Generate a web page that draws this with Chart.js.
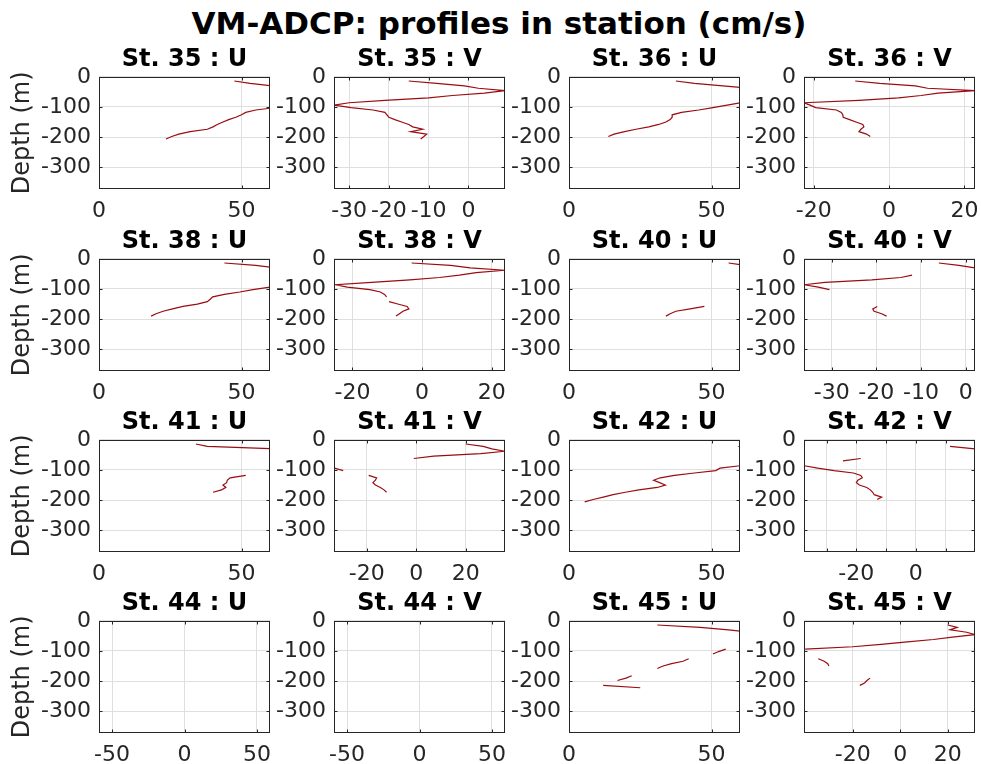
<!DOCTYPE html>
<html>
<head>
<meta charset="utf-8">
<title>VM-ADCP profiles</title>
<script src="https://cdn.jsdelivr.net/npm/chart.js@4.4.1/dist/chart.umd.min.js"></script>
<style>
    body { margin: 0; background: #fff; width: 981px; height: 764px; position: relative; overflow: hidden; }
    #suptitle { position: absolute; left: 0; width: 998px; top: 8px; text-align: center;
                font: bold 31px/31px 'DejaVu Sans'; color: #000; }
    canvas { position: absolute; }
</style>
</head>
<body>
<div id="suptitle">VM-ADCP: profiles in station (cm/s)</div>
<script>
// depth of the ADCP bins (m)
const depth = [-14, -22, -30, -38, -46, -54, -62, -70, -78, -86, -94, -102, -110, -118,
               -126, -134, -142, -150, -158, -166, -174, -182, -190, -198, -206, -214, -222];

// velocity per bin (cm/s), null where there is no good data
const u35 = [47.5, 53, 60.5, 66, 70, 72, 74, 75, 74, 72, 68, 62, 55, 51.5, 50, 48, 45.5, 43.5, 41.5, 40, 38, 32, 28, 25.5, 23.5, null, null];
const v35 = [-15, -8, -1, 2.5, 9.2, 4, -4, -10, -21, -30, -33.8, -29.5, -24, -21, -20.5, -20, -18.5, -16.8, -15, -14, -11.5, -14.5, -10.5, -11.2, -12, null, null];
const u36 = [37.5, 44, 54, 64, 68, 71, 72, 71, 69, 60.2, 55.5, 50.5, 45.5, 39.5, 36.2, 36.2, 35.5, 34, 31.5, 28, 23.5, 19.5, 15.8, 13.8, null, null, null];
const v36 = [-9, -2.5, 7, 10.2, 22.8, 13, 8.5, 2.5, -8, -22.6, -21, -19.5, -14, -12.7, -12.3, -12.2, -10.5, -8.8, -7, -6.7, -7.5, -8, -6, -5, null, null, null];
const u38 = [44, 55, 62, 66, 70, 72, 73, 72, 70, 67, 60, 54, 49.4, 44, 39.9, 39, 38, 34.5, 29.5, 25.8, 22.5, 20, 18.3, null, null, null, null];
const v38 = [-3, 8.2, 13.8, 23.8, 15.5, 10.7, 5, -3.5, -14.5, -24.8, -21.5, -15, -12, -10.8, -10.2, null, -9.5, -7, -4.3, -3.8, -5.5, -6.5, -7.5, null, null, null, null];
const u40 = [56, 62, null, null, null, null, null, null, null, null, null, null, null, null, null, null, null, null, 47.5, 42.5, 37.5, 35.5, 34, null, null, null, null];
const v40 = [-6, -1.5, 2.1, null, null, -12, -14.5, -21, -31.5, -36.2, -33, -30.5, null, null, null, null, null, null, -19.8, -20.8, -20.5, -18.8, -17.7, null, null, null, null];
const u41 = [34, 38, 62, null, null, null, null, null, null, null, null, null, null, 51.5, 46, 45, 44.8, 43.5, 44.5, 43, 40, null, null, null, null, null, null];
const v41 = [20, 27, 30.5, 35.8, 26, 7, -1, null, null, null, -33, -29.5, null, -19.2, -16, -16.5, -17.5, -16.5, -14.5, -13, -12, null, null, null, null, null, null];
const u42 = [62, 59.8, 63, 66, 70, 72, 71, 68, 65, 60, 53, 51.5, 44, 37, 32, 29.7, 31.8, 33.8, 31, 24.5, 19.8, 15.5, 12, 8.5, 5.5, null, null];
const v42 = [null, 11.5, 19.9, null, null, null, -18.5, -24.5, null, -37.5, -33, -27.5, -21, -18.5, -18, -19.5, -20, -19, -16.5, -15.3, -14.5, -14, -11.5, -13, null, null, null];
const u44 = [];
const v44 = [];
const u45 = [31, 46, 56, 64, null, null, null, null, null, null, 55, 52.5, 50.5, null, 42, 40, 36, 33, 31, null, null, 22, 20, 17, null, 12, 25];
const v45 = [20, 24, 21, 28, 31.5, 22, 14, 3, -8, -20, -40, null, null, null, -34.5, -32, -30.5, -30, null, null, null, null, -12.7, -14, -15, -17, null];

// tick positions and labels
const depthTicks = [0, -100, -200, -300];
const depthLabels = ['0', '-100', '-200', '-300'];
const ticksU = [0, 50];
const labelsU = ['0', '50'];
const ticks30 = [-30, -20, -10, 0];
const labels30 = ['-30', '-20', '-10', '0'];
const ticks20 = [-20, 0, 20];
const labels20 = ['-20', '0', '20'];
const ticks42v = [-30, -20, -10, 0, 10];
const labels42v = ['', '-20', '', '0', ''];
const ticks50 = [-50, 0, 50];
const labels50 = ['-50', '0', '50'];

const panels = [
    { title: 'St. 35 : U', values: u35, xmin: 0, xmax: 60, ticks: ticksU, labels: labelsU },
    { title: 'St. 35 : V', values: v35, xmin: -33.8, xmax: 9.2, ticks: ticks30, labels: labels30 },
    { title: 'St. 36 : U', values: u36, xmin: 0, xmax: 60, ticks: ticksU, labels: labelsU },
    { title: 'St. 36 : V', values: v36, xmin: -22.6, xmax: 22.8, ticks: ticks20, labels: labels20 },
    { title: 'St. 38 : U', values: u38, xmin: 0, xmax: 60, ticks: ticksU, labels: labelsU },
    { title: 'St. 38 : V', values: v38, xmin: -25.3, xmax: 23.8, ticks: ticks20, labels: labels20 },
    { title: 'St. 40 : U', values: u40, xmin: 0, xmax: 60, ticks: ticksU, labels: labelsU },
    { title: 'St. 40 : V', values: v40, xmin: -36.2, xmax: 2.1, ticks: ticks30, labels: labels30 },
    { title: 'St. 41 : U', values: u41, xmin: 0, xmax: 60, ticks: ticksU, labels: labelsU },
    { title: 'St. 41 : V', values: v41, xmin: -33.2, xmax: 35.8, ticks: ticks20, labels: labels20 },
    { title: 'St. 42 : U', values: u42, xmin: 0, xmax: 60, ticks: ticksU, labels: labelsU },
    { title: 'St. 42 : V', values: v42, xmin: -37.6, xmax: 19.9, ticks: ticks42v, labels: labels42v },
    { title: 'St. 44 : U', values: u44, xmin: -59, xmax: 59, ticks: ticks50, labels: labels50 },
    { title: 'St. 44 : V', values: v44, xmin: -59, xmax: 59, ticks: ticks50, labels: labels50 },
    { title: 'St. 45 : U', values: u45, xmin: 0, xmax: 60, ticks: ticksU, labels: labelsU },
    { title: 'St. 45 : V', values: v45, xmin: -40.5, xmax: 31.5, ticks: ticks20, labels: labels20 }
];

// subplot grid
const colLeft = [99, 334, 569, 804];
const rowTop = [77, 259, 440, 621];
const plotW = 171, plotH = 112;
const yAxisW = 96, titleH = 38.8, xAxisH = 40, padRight = 16;

const FONT = 'DejaVu Sans';
const INK = '#262626';

// box around the axes with inward tick marks on all four sides
const axesBox = {
    id: 'axesBox',
    afterDraw(chart) {
        const { ctx, chartArea: a, scales } = chart;
        const L = Math.round(a.left) + 0.5, R = Math.round(a.right) - 0.5;
        const T = Math.round(a.top) + 0.5, B = Math.round(a.bottom) - 0.5;
        ctx.save();
        ctx.strokeStyle = INK;
        ctx.lineWidth = 1;
        ctx.beginPath();
        scales.x.ticks.forEach(t => {
            const px = Math.round(scales.x.getPixelForValue(t.value)) + 0.5;
            ctx.moveTo(px, T); ctx.lineTo(px, T + 3);
            ctx.moveTo(px, B); ctx.lineTo(px, B - 3);
        });
        scales.y.ticks.forEach(t => {
            const py = Math.round(scales.y.getPixelForValue(t.value)) + 0.5;
            ctx.moveTo(L, py); ctx.lineTo(L + 3, py);
            ctx.moveTo(R, py); ctx.lineTo(R - 3, py);
        });
        ctx.stroke();
        ctx.strokeRect(L, T, R - L, B - T);
        ctx.restore();
    }
};

function makePanel(p, idx) {
    const row = Math.floor(idx / 4), col = idx % 4;
    const canvas = document.createElement('canvas');
    canvas.width = yAxisW + plotW + padRight;
    canvas.height = Math.round(titleH + plotH + xAxisH);
    canvas.style.left = (colLeft[col] - yAxisW) + 'px';
    canvas.style.top = (rowTop[row] - titleH) + 'px';
    document.body.appendChild(canvas);

    const points = p.values.map((v, i) => ({ x: v, y: depth[i] }));

    new Chart(canvas, {
        type: 'scatter',
        data: {
            datasets: [{
                data: points,
                showLine: true,
                spanGaps: false,
                borderColor: '#9a0c10',
                borderWidth: 1.2,
                pointRadius: 0,
                pointHoverRadius: 0
            }]
        },
        options: {
            responsive: false,
            animation: false,
            events: [],
            layout: { padding: { left: 0, top: 0, right: padRight, bottom: 0 } },
            plugins: {
                legend: { display: false },
                tooltip: { enabled: false },
                title: {
                    display: true,
                    fullSize: false,
                    text: p.title,
                    color: '#000',
                    font: { family: FONT, size: 24, weight: 'bold' },
                    padding: { top: 7, bottom: 3 }
                }
            },
            scales: {
                x: {
                    type: 'linear',
                    min: p.xmin,
                    max: p.xmax,
                    afterBuildTicks: s => { s.ticks = p.ticks.map(v => ({ value: v })); },
                    afterFit: s => { s.height = xAxisH; },
                    grid: { color: '#dfdfdf', drawTicks: false },
                    border: { display: false },
                    ticks: {
                        autoSkip: false,
                        maxRotation: 0,
                        minRotation: 0,
                        padding: 9,
                        color: INK,
                        font: { family: FONT, size: 22 },
                        callback: v => p.labels[p.ticks.indexOf(v)]
                    }
                },
                y: {
                    type: 'linear',
                    min: -372,
                    max: 0,
                    afterBuildTicks: s => { s.ticks = depthTicks.map(v => ({ value: v })); },
                    afterFit: s => { s.width = yAxisW; },
                    grid: { color: '#dfdfdf', drawTicks: false },
                    border: { display: false },
                    title: {
                        display: col === 0,
                        text: 'Depth (m)',
                        color: INK,
                        font: { family: FONT, size: 24 },
                        padding: { top: 5, bottom: 0 }
                    },
                    ticks: {
                        padding: 8,
                        color: INK,
                        font: { family: FONT, size: 22 },
                        callback: v => depthLabels[depthTicks.indexOf(v)]
                    }
                }
            }
        },
        plugins: [axesBox]
    });
}

panels.forEach(makePanel);
</script>
</body>
</html>
